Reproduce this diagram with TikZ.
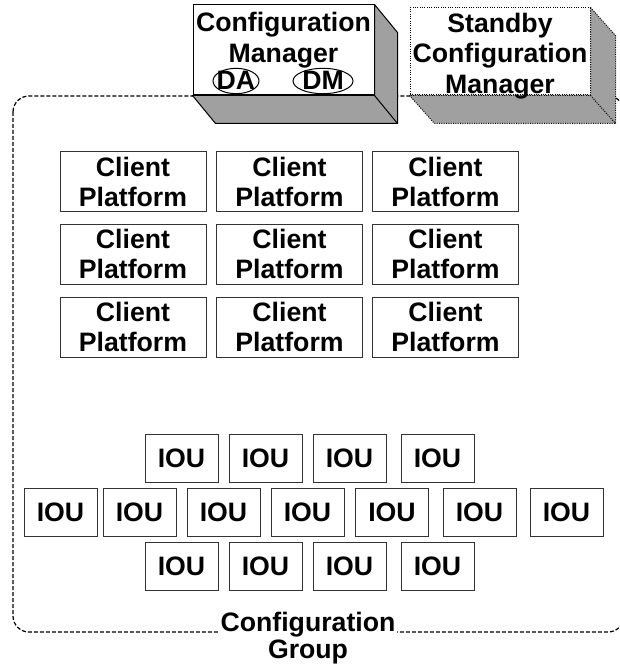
\documentclass[tikz,border=0pt]{standalone}
\usepackage{fontspec}
\setmainfont{Liberation Sans}
\usetikzlibrary{shapes.geometric,calc}
\definecolor{shadegray}{HTML}{A0A0A0}
\begin{document}
\begin{tikzpicture}[x=0.75pt,y=-0.75pt,
  every node/.style={font=\fontsize{20}{22.5}\selectfont\bfseries},
  group/.style={draw=black, line width=0.9pt, dash pattern=on 3pt off 1.5pt, rounded corners=12pt},
  frontface/.style={draw=black, line width=0.75pt, fill=white, inner sep=0pt},
  sidefaces/.style={fill=shadegray, draw=black, line width=0.75pt, line join=round},
  client/.style={draw=black!80, line width=0.75pt, fill=white, minimum width=109.5pt, minimum height=45pt, inner sep=0pt, align=center},
  iou/.style={draw=black!80, line width=0.75pt, fill=white, minimum width=54.75pt, minimum height=36pt, inner sep=0pt},
  tag/.style={draw=black, line width=0.75pt, ellipse, inner sep=0pt, minimum height=19pt},
  txt/.style={anchor=base, inner sep=0pt}
]
\useasboundingbox (0,0) rectangle (619,670);

% configuration group outline
\coordinate (g1) at (13,96);
\coordinate (g2) at (624,632);
\draw[group] (g1) rectangle (g2);

% Configuration Manager (3D box)
\node[frontface, minimum width=135.75pt, minimum height=67.5pt] (cm) at (283.5,50) {};
\filldraw[sidefaces] (cm.north east) -- ($(cm.north east)+(23,28)$) -- ($(cm.south east)+(23,28)$) -- ($(cm.south west)+(23,28)$) -- (cm.south west) -- (cm.south east) -- cycle;
\draw[line width=0.75pt] (cm.south east) -- ($(cm.south east)+(23,28)$);
\node[txt] (cmt1) at (283.5,32) {Configuration};
\node[txt] (cmt2) at (283.5,63) {Manager};
\node[tag, minimum width=34.5pt] (da) at (236,81) {};
\node[tag, minimum width=45pt] (dm) at (323,81) {};
\node[txt] (dat) at (236,90) {DA};
\node[txt] (dmt) at (323,90) {DM};

% Standby Configuration Manager (3D box, dotted)
\node[frontface, densely dotted, minimum width=135pt, minimum height=65.25pt] (sb) at (500,51.5) {};
\filldraw[sidefaces, densely dotted] (sb.north east) -- ($(sb.north east)+(25,28)$) -- ($(sb.south east)+(25,28)$) -- ($(sb.south west)+(25,28)$) -- (sb.south west) -- (sb.south east) -- cycle;
\draw[line width=0.75pt, densely dotted] (sb.south east) -- ($(sb.south east)+(25,28)$);
\node[txt] (sbt1) at (500,33) {Standby};
\node[txt] (sbt2) at (500,63) {Configuration};
\node[txt] (sbt3) at (500,94) {Manager};

% Client platforms
\foreach \c/\x in {1/133,2/289.5,3/445.5}{
  \foreach \r/\y in {1/182,2/254,3/327}{
    \node[client] (cp\r\c) at (\x,\y) {Client\\Platform};
  }
}

% IOUs
\foreach \i/\x in {1/181.5,2/265.5,3/349.5,4/437.5}{
  \node[iou] (ioua\i) at (\x,458) {IOU};
  \node[iou] (iouc\i) at (\x,566.5) {IOU};
}
\foreach \i/\x in {1/60.5,2/139.5,3/223.5,4/307.5,5/392,6/479.5,7/566.5}{
  \node[iou] (ioub\i) at (\x,512.5) {IOU};
}

% group label
\node[txt, fill=white, inner xsep=1pt] (cg1) at (308,631) {Configuration};
\node[txt] (cg2) at (308,658) {Group};
\end{tikzpicture}
\end{document}
